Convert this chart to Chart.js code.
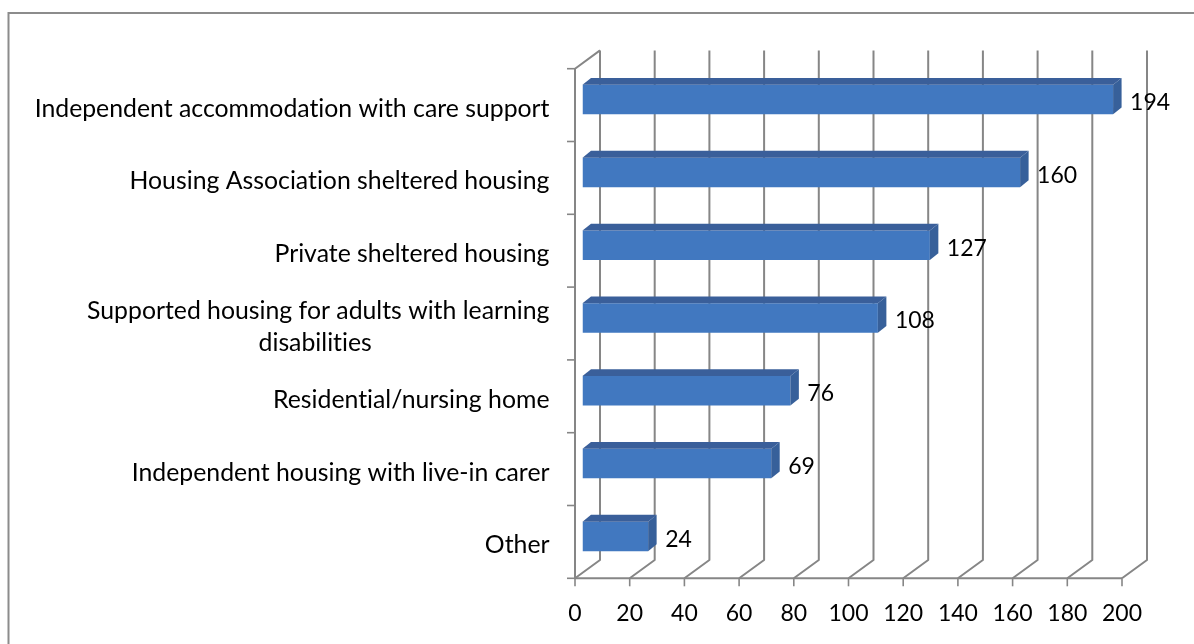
<!DOCTYPE html>
<html><head><meta charset="utf-8">
<style>html,body{margin:0;padding:0;background:#fff}#w{position:relative;width:1194px;height:644px}</style>
<script src="https://cdn.jsdelivr.net/npm/chart.js@4/dist/chart.umd.min.js"></script>
</head><body><div id="w"><canvas id="c" width="1194" height="644"></canvas></div>
<script>
const categories = [
  'Independent accommodation with care support',
  'Housing Association sheltered housing',
  'Private sheltered housing',
  ['Supported housing for adults with learning', 'disabilities' + '\u00A0'.repeat(28)],
  'Residential/nursing home',
  'Independent housing with live-in carer',
  'Other'
];
const values = [194, 160, 127, 108, 76, 69, 24];
const axisMin = 0, axisMax = 200, axisStep = 20;

const FONT = 'Lato, Carlito, sans-serif';
const NUM_SIZE = 23;
const CAT_SIZE = 24.8;
const GRID = '#868686';
const FRONT = {dx: -7.5, dy: 5.5};
const BACK = {dx: 17.5, dy: -12.8};
const DEPTH = {dx: 8.5, dy: 6.8};

const canvas = document.getElementById('c');

const scene3d = {
  id: 'scene3d',
  beforeDraw(chart) {
    chart.ctx.textRendering = 'optimizeSpeed';
  },
  beforeDatasetsDraw(chart) {
    const {ctx, chartArea: a, scales: {x, y}} = chart;
    ctx.save();
    // page frame: only top and left edges show
    ctx.strokeStyle = '#8c8c8c'; ctx.lineWidth = 2;
    ctx.beginPath();
    ctx.moveTo(1194, 13); ctx.lineTo(8.5, 13); ctx.lineTo(8.5, 644);
    ctx.stroke();
    ctx.strokeStyle = GRID; ctx.lineWidth = 2; ctx.lineJoin = 'round';
    const top = a.top, bot = a.bottom;
    // back wall gridlines with floor diagonals
    for (let v = axisMin; v <= axisMax; v += axisStep) {
      const p = x.getPixelForValue(v);
      ctx.beginPath();
      ctx.moveTo(p + BACK.dx, top + BACK.dy);
      ctx.lineTo(p + BACK.dx, bot + BACK.dy);
      ctx.lineTo(p + FRONT.dx, bot + FRONT.dy);
      ctx.stroke();
      ctx.lineWidth = 1.6;
      ctx.beginPath();
      ctx.moveTo(p + FRONT.dx, bot + FRONT.dy);
      ctx.lineTo(p + FRONT.dx, bot + FRONT.dy + 8);
      ctx.stroke();
      ctx.lineWidth = 2;
    }
    const x0 = x.getPixelForValue(axisMin);
    // left wall top diagonal, front vertical axis, bottom axis
    ctx.beginPath();
    ctx.moveTo(x0 + BACK.dx, top + BACK.dy);
    ctx.lineTo(x0 + FRONT.dx, top + FRONT.dy);
    ctx.lineTo(x0 + FRONT.dx, bot + FRONT.dy);
    ctx.lineTo(x.getPixelForValue(axisMax) + FRONT.dx, bot + FRONT.dy);
    ctx.stroke();
    // category tick marks on the front axis
    ctx.lineWidth = 1.6;
    for (let i = 0; i <= categories.length; i++) {
      const py = y.getPixelForValue(i - 0.5) + FRONT.dy;
      ctx.beginPath();
      ctx.moveTo(x0 + FRONT.dx - 8, py);
      ctx.lineTo(x0 + FRONT.dx, py);
      ctx.stroke();
    }
    ctx.restore();
  },
  afterDatasetsDraw(chart) {
    const {ctx} = chart;
    const meta = chart.getDatasetMeta(0);
    ctx.save();
    meta.data.forEach((b, i) => {
      const h = b.height, T = b.y - h / 2, B = b.y + h / 2, L = b.base, R = b.x;
      // top face
      ctx.fillStyle = '#3a5f9a';
      ctx.beginPath();
      ctx.moveTo(L, T); ctx.lineTo(L + DEPTH.dx, T - DEPTH.dy);
      ctx.lineTo(R + DEPTH.dx, T - DEPTH.dy); ctx.lineTo(R, T);
      ctx.closePath(); ctx.fill();
      // right face
      ctx.fillStyle = '#37609a';
      ctx.beginPath();
      ctx.moveTo(R, T); ctx.lineTo(R + DEPTH.dx, T - DEPTH.dy);
      ctx.lineTo(R + DEPTH.dx, B - DEPTH.dy); ctx.lineTo(R, B);
      ctx.closePath(); ctx.fill();
      // value label
      ctx.fillStyle = '#000';
      ctx.font = NUM_SIZE + 'px ' + FONT;
      ctx.textAlign = 'left'; ctx.textBaseline = 'middle';
      ctx.fillText(String(values[i]), R + 17, b.y + 3);
    });
    ctx.restore();
  }
};

new Chart(canvas, {
  type: 'bar',
  data: {
    labels: categories,
    datasets: [{
      data: values,
      backgroundColor(ctx) {
        const area = ctx.chart.chartArea;
        const el = ctx.chart.getDatasetMeta(0).data[ctx.dataIndex];
        if (!area || !el || !isFinite(el.y)) return '#4178c0';
        const g = ctx.chart.ctx.createLinearGradient(0, el.y - 15, 0, el.y + 15);
        g.addColorStop(0, '#3f76ba'); g.addColorStop(.5, '#4179c0'); g.addColorStop(1, '#4a81c9');
        return g;
      },
      borderWidth: 0,
      categoryPercentage: 1,
      barPercentage: 0.405
    }]
  },
  options: {
    indexAxis: 'y',
    responsive: false,
    animation: false,
    layout: {padding: {top: 63.2, right: 64.5, left: 0, bottom: 0}},
    plugins: {legend: {display: false}, tooltip: {enabled: false}},
    scales: {
      x: {
        min: axisMin, max: axisMax,
        border: {display: false},
        grid: {display: false, drawTicks: false},
        afterFit(s) { s.height = 644 - 572.8; },
        ticks: {stepSize: axisStep, color: '#000', maxRotation: 0, labelOffset: -7.5, padding: 27,
                font: {family: FONT, size: NUM_SIZE}}
      },
      y: {
        border: {display: false},
        grid: {display: false, drawTicks: false},
        afterFit(s) { s.width = 582.5; },
        ticks: {color: '#000', padding: 33, labelOffset: 9, autoSkip: false,
                font: {family: FONT, size: CAT_SIZE, lineHeight: 1.3}}
      }
    }
  },
  plugins: [scene3d]
});
</script></body></html>
